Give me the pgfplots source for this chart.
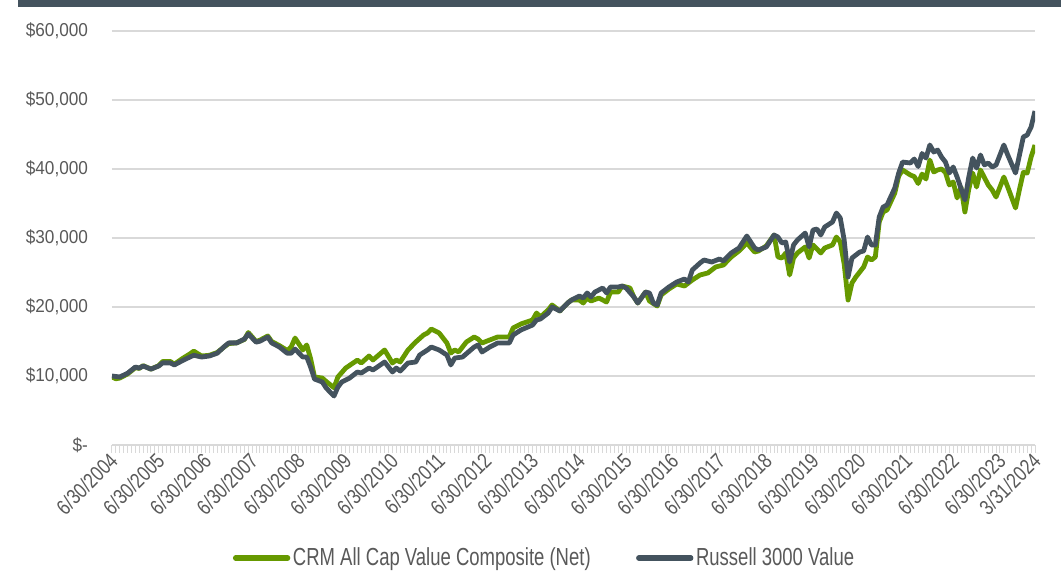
\documentclass[border=0pt]{standalone}
\usepackage{fontspec}
\setmainfont{Liberation Sans}[FakeStretch=0.8]
\newfontfamily\yfont{Liberation Sans}[FakeStretch=0.92]
\newfontfamily\legfont{Liberation Sans}[FakeStretch=0.75]
\usepackage{pgfplots}
\pgfplotsset{compat=1.18}
\definecolor{crmgreen}{HTML}{669900}
\definecolor{slate}{HTML}{44535E}
\definecolor{txt}{HTML}{595959}
\definecolor{gridc}{HTML}{D9D9D9}

\pgfplotstableread{
m v
0 10000
2 9860
4 10400
6 11300
7 11150
8 11450
10 11000
12 11450
13 11900
15 11900
16 11600
18 12200
20 12750
21 13000
23 12750
25 12900
27 13300
29 14350
30 14800
32 14800
34 15350
35 16100
37 14900
38 15050
40 15650
41 14800
43 14200
45 13300
46 13300
47 13900
49 12750
50 12750
51 11300
52 9560
54 9130
55 8260
57 7100
58 8400
59 9130
61 9700
63 10580
64 10430
66 11150
67 10870
70 12030
72 10580
73 11150
74 10720
76 11880
78 12030
79 13040
81 13770
82 14200
84 13770
86 13040
87 11600
88 12600
90 12750
93 14200
94 14500
95 13480
97 14200
99 14780
102 14780
103 15940
105 16670
108 17390
109 18120
110 18260
112 19130
113 20000
115 19420
117 20580
118 21010
120 21590
121 21300
122 22030
123 21450
124 22170
126 22750
127 22030
128 22900
130 22900
131 23040
132 22750
134 21450
135 20580
137 22170
138 22030
139 20580
140 20290
141 22030
143 22900
145 23620
147 24060
148 23620
149 25360
151 26380
152 26810
154 26520
156 26960
157 26670
159 27830
161 28550
163 30290
165 28550
166 28260
168 28700
170 30430
171 30140
172 29280
173 29420
174 26520
175 28990
176 29710
178 30720
179 28700
180 31160
181 31300
182 30430
183 31590
185 32320
186 33620
187 32900
188 29710
189 24350
190 27100
192 27970
193 28120
194 30140
195 28990
196 28990
197 33040
198 34490
199 34780
201 37250
202 39420
203 41010
205 40870
206 41450
207 40360
208 42250
209 41590
210 43480
211 42460
212 42750
213 41740
214 41010
215 39420
216 40290
217 38840
219 35510
220 38840
221 41590
222 40140
223 42030
224 40580
225 40870
226 40290
227 40580
229 43480
230 42030
232 39420
233 42000
234 44640
235 44930
236 46090
237 48400
}\russell

\pgfplotstableread{
m v
0 9850
1 9600
2 9700
4 10300
6 11200
7 11100
8 11500
10 11000
12 11500
13 12100
15 12100
16 11700
18 12500
20 13200
21 13600
23 12900
25 13000
27 13400
29 14300
30 14700
32 14800
34 15300
35 16300
37 15000
38 15200
40 15800
41 15000
43 14400
45 13700
46 14200
47 15500
49 13770
50 14500
51 12500
52 9860
54 9700
55 9200
57 8300
58 9860
60 11150
63 12300
64 11880
66 12900
67 12320
70 13770
72 11880
73 12320
74 12030
76 13770
78 14930
80 15940
81 16230
82 16810
84 16230
86 14780
87 13330
88 13770
89 13480
91 14930
93 15650
94 15360
95 14780
97 15220
99 15650
102 15650
103 16960
105 17540
108 18120
109 19130
110 18550
112 19570
113 20290
115 19420
117 20580
118 21010
120 21010
121 20580
122 21300
123 20870
125 21300
127 20720
128 22170
130 22170
131 23040
133 22750
134 21450
135 20580
137 22170
138 20870
140 20140
141 21740
143 22610
145 23330
147 23040
149 23910
151 24640
153 24930
155 25800
157 26090
159 27250
161 28120
163 29280
165 27970
166 28120
168 28850
170 30430
171 27250
172 27100
173 27830
174 24640
175 27100
176 27830
178 28700
179 27100
180 28990
182 27830
183 28550
185 28990
186 30140
187 29420
188 26230
189 21010
190 23480
191 24350
193 25800
194 27250
195 26810
196 27250
197 32320
198 33770
199 34060
201 36520
202 38980
203 39860
205 39130
206 38900
207 37900
208 39270
209 38550
210 41300
211 39570
212 39860
213 40000
214 39500
215 37680
216 38120
217 35800
218 37390
219 33770
220 37100
221 39420
222 37390
223 39860
225 37680
226 36960
227 35940
229 38840
230 37390
232 34350
233 37000
234 39500
235 39420
236 41740
237 43480
}\crm

\begin{document}
\begin{tikzpicture}
\path[use as bounding box] (0,0) rectangle (795.75pt,428.25pt);
\fill[slate] (13.5pt,423pt) rectangle (795.75pt,428.25pt);
\begin{axis}[
  at={(84pt,94.5pt)}, anchor=south west, scale only axis,
  width=692.25pt, height=310.5pt,
  xmin=0, xmax=237, ymin=0, ymax=60000,
  scaled y ticks=false, scaled x ticks=false,
  axis line style={draw=none},
  ytick={0,10000,20000,30000,40000,50000,60000},
  yticklabels={{\$-},{\$10,000},{\$20,000},{\$30,000},{\$40,000},{\$50,000},{\$60,000}},
  ymajorgrids, grid style={gridc, line width=1.5pt},
  ytick style={draw=none},
  xtick={0,12,24,36,48,60,72,84,96,108,120,132,144,156,168,180,192,204,216,228,237},
  xticklabels={6/30/2004,6/30/2005,6/30/2006,6/30/2007,6/30/2008,6/30/2009,6/30/2010,6/30/2011,6/30/2012,6/30/2013,6/30/2014,6/30/2015,6/30/2016,6/30/2017,6/30/2018,6/30/2019,6/30/2020,6/30/2021,6/30/2022,6/30/2023,3/31/2024},
  minor xtick={0,1,...,237},
  xtick style={gridc, line width=0.75pt},
  minor tick style={gridc, line width=0.75pt},
  major tick length=6pt, minor tick length=6pt,
  tick align=outside, xtick pos=left, ytick pos=left,
  xticklabel style={rotate=45, anchor=east, font=\fontsize{16}{18}\selectfont, text=txt, inner sep=1pt, yshift=-3pt},
  yticklabel style={font=\yfont\fontsize{14}{16}\selectfont, text=txt, anchor=east, xshift=-8.5pt},
  legend style={at={(0.469,-0.273)}, anchor=center, draw=none, fill=none,
    legend columns=2, font=\legfont\fontsize{18.5}{20}\selectfont, text=txt,
    /tikz/every even column/.append style={column sep=32pt}},
  legend image code/.code={\draw[#1, line width=4pt, line cap=round] (0pt,0pt) -- (39pt,0pt);},
]
\addplot[crmgreen, line width=3.6pt, line join=round] table[x=m,y=v] {\crm};
\addlegendentry{CRM All Cap Value Composite (Net)}
\addplot[slate, line width=3.6pt, line join=round] table[x=m,y=v] {\russell};
\addlegendentry{Russell 3000 Value}
\end{axis}
\end{tikzpicture}
\end{document}
